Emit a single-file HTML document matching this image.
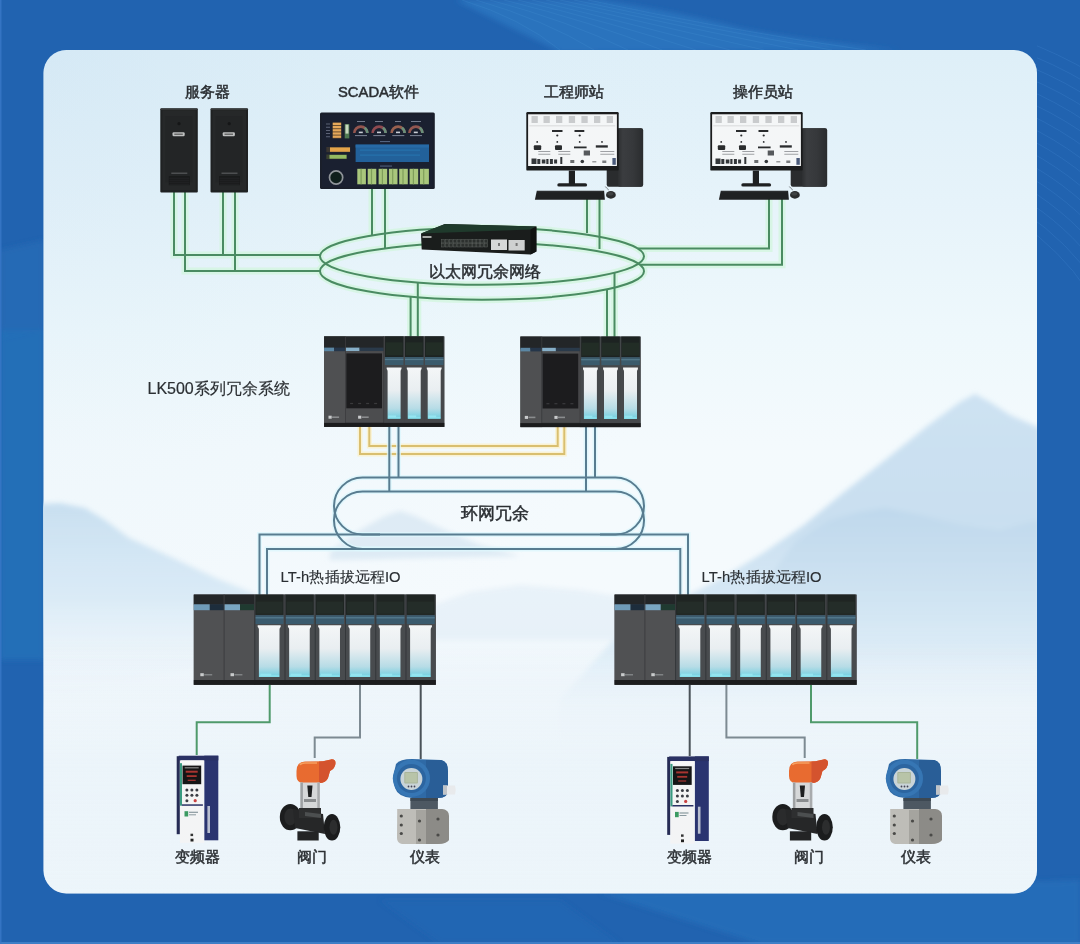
<!DOCTYPE html>
<html><head><meta charset="utf-8">
<style>
html,body{margin:0;padding:0;}
body{width:1080px;height:944px;overflow:hidden;position:relative;background:#2163b0;font-family:"Liberation Sans",sans-serif;color:#2e3236;}
svg{position:absolute;left:0;top:0;}
.t{position:absolute;white-space:nowrap;font-size:14.8px;line-height:15px;letter-spacing:0;color:#2b2f33;-webkit-text-stroke:0.5px #2b2f33;}
.b{font-size:16.5px;line-height:17px;}
</style></head><body>
<svg width="1080" height="944" viewBox="0 0 1080 944">
<defs>
 <linearGradient id="cardg" x1="0" y1="0" x2="0" y2="1">
  <stop offset="0" stop-color="#deeff8"/>
  <stop offset="0.18" stop-color="#e6f3fa"/>
  <stop offset="0.33" stop-color="#eef8fc"/>
  <stop offset="0.47" stop-color="#f4fafd"/>
  <stop offset="0.65" stop-color="#f5fafd"/>
  <stop offset="0.75" stop-color="#eef6fb"/>
  <stop offset="0.85" stop-color="#eaf4fa"/>
  <stop offset="1" stop-color="#eef6fb"/>
 </linearGradient>
 <radialGradient id="tlshade" cx="44" cy="50" r="700" gradientUnits="userSpaceOnUse">
  <stop offset="0" stop-color="#c8e0f1" stop-opacity="0.4"/>
  <stop offset="0.5" stop-color="#d3e8f4" stop-opacity="0.18"/>
  <stop offset="1" stop-color="#e0eef8" stop-opacity="0"/>
 </radialGradient>
 <linearGradient id="mtR" x1="0" y1="0" x2="0" y2="1">
  <stop offset="0" stop-color="#cde2f2"/>
  <stop offset="0.35" stop-color="#c9dff0"/>
  <stop offset="0.7" stop-color="#d8eaf6" stop-opacity="0.8"/>
  <stop offset="1" stop-color="#ecf4fa" stop-opacity="0"/>
 </linearGradient>
 <linearGradient id="mtR2" x1="0" y1="0" x2="0" y2="1">
  <stop offset="0" stop-color="#bfd8ec"/>
  <stop offset="0.5" stop-color="#d0e4f2" stop-opacity="0.7"/>
  <stop offset="1" stop-color="#ecf4fa" stop-opacity="0"/>
 </linearGradient>
 <linearGradient id="mist" x1="0" y1="0" x2="0" y2="1">
  <stop offset="0" stop-color="#f0f6fb" stop-opacity="0"/>
  <stop offset="0.3" stop-color="#f0f6fb" stop-opacity="0.5"/>
  <stop offset="1" stop-color="#eaf3f9" stop-opacity="0.3"/>
 </linearGradient>
 <filter id="blur2" x="-10%" y="-10%" width="120%" height="120%"><feGaussianBlur stdDeviation="2.5"/></filter>
 <linearGradient id="mtL" x1="0" y1="0" x2="0" y2="1">
  <stop offset="0" stop-color="#c8dff0"/>
  <stop offset="0.5" stop-color="#d5e8f5" stop-opacity="0.8"/>
  <stop offset="1" stop-color="#ecf4fa" stop-opacity="0"/>
 </linearGradient>
 <clipPath id="cardclip"><rect x="43.5" y="50" width="993.5" height="843.5" rx="23"/></clipPath>

<symbol id="server" overflow="visible">
 <rect x="0" y="0" width="37.5" height="84.3" rx="1" fill="#1f2122"/>
 <rect x="2" y="2" width="33.5" height="80" fill="#262829"/>
 <rect x="5" y="8" width="27" height="66" fill="#232526"/>
 <rect x="0.5" y="0.5" width="36.5" height="1.2" fill="#3a3c3d"/>
 <rect x="12.2" y="24" width="12.2" height="4" rx="1.2" fill="#bdbfbf"/>
 <rect x="14" y="25.4" width="8.5" height="1.2" fill="#555"/>
 <circle cx="18.7" cy="15.5" r="1.6" fill="#151617"/>
 <rect x="11" y="64.5" width="16" height="0.9" fill="#6b6d6e"/>
 <rect x="8.5" y="68" width="21" height="9" fill="#18191a"/>
 <g stroke="#2c2e2f" stroke-width="0.6"><path d="M9 70 H29 M9 72 H29 M9 74 H29 M9 76 H29"/></g>
</symbol>

<linearGradient id="towerg" x1="0" y1="0" x2="1" y2="0">
  <stop offset="0" stop-color="#2c2e30"/>
  <stop offset="0.2" stop-color="#3b3d40"/>
  <stop offset="0.6" stop-color="#36383b"/>
  <stop offset="1" stop-color="#2a2c2e"/>
</linearGradient>
<symbol id="ws" overflow="visible">
 <!-- tower -->
 <rect x="80.4" y="16.2" width="36.4" height="58.6" rx="2.2" fill="#2a2c2e"/>
 <rect x="91.5" y="16.2" width="25.3" height="58.6" rx="2.2" fill="url(#towerg)"/>
 <!-- monitor -->
 <rect x="0" y="0" width="92.4" height="58.6" rx="1.2" fill="#1b1c1d"/>
 <rect x="1.8" y="2.3" width="88.8" height="51.7" fill="#f4f6f7"/>
 <g fill="#c9cbcd">
  <rect x="5.2" y="4" width="6.3" height="7"/><rect x="17.2" y="4" width="6.3" height="7"/>
  <rect x="29.7" y="4" width="6.3" height="7"/><rect x="42.5" y="4" width="6.3" height="7"/>
  <rect x="55.1" y="4" width="6.3" height="7"/><rect x="67.7" y="4" width="6.3" height="7"/>
  <rect x="80.4" y="4" width="6.3" height="7"/>
 </g>
 <rect x="3" y="13.6" width="86" height="0.6" fill="#c5c7c9"/>
 <g fill="#2a2c2e">
  <rect x="25.7" y="18" width="10.5" height="2"/><rect x="48.2" y="18" width="9.8" height="2"/>
  <circle cx="31" cy="23.5" r="1.1"/><circle cx="53.4" cy="23.5" r="1.1"/>
  <circle cx="10.9" cy="29.9" r="0.9"/><circle cx="31" cy="29.9" r="0.9"/><circle cx="53.4" cy="29.9" r="0.9"/><circle cx="75.7" cy="29.9" r="0.9"/>
  <rect x="7.5" y="33.3" width="7.4" height="4.7" rx="1"/><rect x="28.7" y="33.3" width="7" height="4.7" rx="1"/>
  <rect x="47.7" y="34.5" width="12.6" height="1.8"/><rect x="69.5" y="33.3" width="12" height="2.3"/>
  <rect x="57.4" y="38.5" width="6.3" height="5" fill="#56595c"/>
 </g>
 <g fill="#8a8d90">
  <rect x="12" y="39" width="12" height="0.8"/><rect x="12" y="41.8" width="12" height="0.8"/>
  <rect x="32" y="39" width="12" height="0.8"/><rect x="32" y="41.8" width="12" height="0.8"/>
  <rect x="74" y="39" width="14" height="0.8"/><rect x="74" y="41.8" width="14" height="0.8"/>
 </g>
 <g fill="#34373a">
  <rect x="5.2" y="46.5" width="5" height="5.5"/><rect x="11" y="47" width="3" height="5"/>
  <rect x="15.5" y="47.5" width="3.6" height="4"/><rect x="20" y="47" width="2.2" height="5"/>
  <rect x="23.6" y="47" width="3" height="5"/><rect x="27.8" y="47.5" width="3" height="4"/>
  <rect x="34" y="45" width="2" height="7"/><rect x="44" y="48" width="4" height="3" fill="#6b6e70"/>
  <circle cx="56" cy="49.5" r="1.8"/><rect x="66" y="49" width="4" height="1.5" fill="#9a9c9e"/>
  <rect x="76" y="48.5" width="4" height="2.5" fill="#7a7d80"/>
  <rect x="86.1" y="46" width="3.4" height="6.8" fill="#4a5a7a"/>
 </g>
 <!-- stand -->
 <rect x="42.5" y="58.6" width="6.2" height="13.4" fill="#1e2021"/>
 <rect x="31" y="71.2" width="29.8" height="3.4" rx="1.7" fill="#1f2122"/>
 <!-- keyboard -->
 <path d="M10.5 78.7 L77.8 78.7 L78.6 87.8 L8.6 87.8 Z" fill="#1f2122"/>
 <rect x="11" y="79.5" width="66" height="0.6" fill="#393b3c"/>
 <!-- mouse -->
 <path d="M82.5 78 Q80 76 79 74.5" fill="none" stroke="#3a3c3d" stroke-width="0.6"/>
 <ellipse cx="84.6" cy="82.9" rx="4.9" ry="3.8" fill="#2a2c2d"/>
 <ellipse cx="84" cy="81.8" rx="3" ry="1.8" fill="#3f4243"/>
</symbol>

<symbol id="scada" overflow="visible">
 <rect x="0" y="0" width="114.8" height="76.4" rx="1.5" fill="#1a1f2b"/>
 <rect x="2" y="2" width="110.8" height="72.4" fill="#1a2030"/>
 <!-- left orange bars -->
 <rect x="12.6" y="9.8" width="8.7" height="16" fill="#6b5030"/>
 <g fill="#e6a95a"><rect x="12.8" y="10.2" width="8.3" height="2.2"/><rect x="12.8" y="13.4" width="8.3" height="2.2"/><rect x="12.8" y="16.6" width="8.3" height="2.2"/><rect x="12.8" y="19.8" width="8.3" height="2.2"/><rect x="12.8" y="23" width="8.3" height="2.2"/></g>
 <g fill="#6d7488"><rect x="6" y="11" width="4" height="0.8"/><rect x="6" y="14.2" width="4" height="0.8"/><rect x="6" y="17.4" width="4" height="0.8"/><rect x="6" y="20.6" width="4" height="0.8"/><rect x="6" y="23.8" width="4" height="0.8"/></g>
 <rect x="24.7" y="11.5" width="4.6" height="14.3" fill="#4f7a52"/>
 <rect x="25.5" y="12" width="3" height="9" fill="#c8d8c0"/>
 <!-- gauges -->
 <g fill="none" stroke-width="2.6">
  <path d="M34.3 20.5 A6.5 6.5 0 0 1 47.3 20.5" stroke="#94564f"/>
  <path d="M52.6 20.5 A6.5 6.5 0 0 1 65.6 20.5" stroke="#8e4a50"/>
  <path d="M71.6 20.5 A6.5 6.5 0 0 1 84.6 20.5" stroke="#98604f"/>
  <path d="M89.4 20.5 A6.5 6.5 0 0 1 102.4 20.5" stroke="#925650"/>
 </g>
 <g fill="none" stroke-width="2.6" stroke="#6a8f7a">
  <path d="M44.6 15.2 A6.5 6.5 0 0 1 47.3 20.5"/>
  <path d="M62.9 15.2 A6.5 6.5 0 0 1 65.6 20.5"/>
  <path d="M81.9 15.2 A6.5 6.5 0 0 1 84.6 20.5"/>
  <path d="M99.7 15.2 A6.5 6.5 0 0 1 102.4 20.5"/>
 </g>
 <g fill="#c9ccd4"><rect x="38.8" y="19" width="4" height="1.6"/><rect x="57" y="19" width="4" height="1.6"/><rect x="76" y="19" width="4" height="1.6"/><rect x="93.8" y="19" width="4" height="1.6"/></g>
 <g fill="#7d8496">
  <rect x="35" y="22.5" width="12" height="1"/><rect x="53.3" y="22.5" width="12" height="1"/><rect x="72.3" y="22.5" width="12" height="1"/><rect x="90" y="22.5" width="12" height="1"/>
  <rect x="37" y="8.5" width="8" height="0.9"/><rect x="55" y="8.5" width="8" height="0.9"/><rect x="75" y="8.5" width="6" height="0.9"/><rect x="91" y="8.5" width="10" height="0.9"/>
 </g>
 <!-- blue area -->
 <rect x="35.6" y="32" width="73.4" height="17.4" fill="#22619a"/>
 <rect x="35.6" y="32" width="73.4" height="3" fill="#276aa6"/>
 <g fill="#2a84c0" opacity="0.6"><rect x="40" y="37" width="60" height="1"/><rect x="40" y="42" width="60" height="1"/></g>
 <rect x="60" y="28.5" width="10" height="1" fill="#5a6c8a"/>
 <!-- left bars -->
 <rect x="6.3" y="34.4" width="24" height="5.2" fill="#3a3530"/>
 <rect x="10" y="34.8" width="20" height="4.4" fill="#e3a44a"/>
 <rect x="6.3" y="41.9" width="20.7" height="4.6" fill="#3a4030"/>
 <rect x="9.5" y="42.3" width="17" height="3.8" fill="#94bb62"/>
 <!-- circle -->
 <circle cx="16.1" cy="64.9" r="6.6" fill="#0f1f1c" stroke="#8f9499" stroke-width="1.7"/>
 <!-- green modules -->
 <g fill="#a9c77c">
  <rect x="37.3" y="56.2" width="8.6" height="15.5"/><rect x="47.7" y="56.2" width="8.6" height="15.5"/>
  <rect x="58.6" y="56.2" width="8.6" height="15.5"/><rect x="68.9" y="56.2" width="8.6" height="15.5"/>
  <rect x="79.2" y="56.2" width="8.6" height="15.5"/><rect x="89.6" y="56.2" width="8.6" height="15.5"/>
  <rect x="99.9" y="56.2" width="9" height="15.5"/>
 </g>
 <g fill="#7f9e5a">
  <rect x="40.5" y="56.2" width="1.2" height="15.5"/><rect x="50.9" y="56.2" width="1.2" height="15.5"/>
  <rect x="61.8" y="56.2" width="1.2" height="15.5"/><rect x="72.1" y="56.2" width="1.2" height="15.5"/>
  <rect x="82.4" y="56.2" width="1.2" height="15.5"/><rect x="92.8" y="56.2" width="1.2" height="15.5"/>
  <rect x="103.1" y="56.2" width="1.2" height="15.5"/>
 </g>
 <rect x="60" y="53" width="12" height="0.9" fill="#5a6c8a"/>
</symbol>
<symbol id="switch" overflow="visible">
 <path d="M0 9.4 L24 0 L115.4 2.6 L115.4 27.6 L109.6 30.4 L0.7 25.6 Z" fill="#1a1d1c"/>
 <path d="M0 9.4 L24 0 L115.4 2.6 L109.6 5.5 Z" fill="#1f3a2c"/>
 <path d="M109.6 5.5 L115.4 2.6 L115.4 27.6 L109.6 30.4 Z" fill="#111312"/>
 <rect x="1.5" y="12" width="9" height="2" fill="#a8aaa8"/>
 <g><rect x="20.5" y="15.6" width="3.2" height="3.3" fill="#2c302e" stroke="#5d625f" stroke-width="0.5"/><rect x="24.4" y="15.6" width="3.2" height="3.3" fill="#2c302e" stroke="#5d625f" stroke-width="0.5"/><rect x="28.3" y="15.6" width="3.2" height="3.3" fill="#2c302e" stroke="#5d625f" stroke-width="0.5"/><rect x="32.2" y="15.6" width="3.2" height="3.3" fill="#2c302e" stroke="#5d625f" stroke-width="0.5"/><rect x="36.1" y="15.6" width="3.2" height="3.3" fill="#2c302e" stroke="#5d625f" stroke-width="0.5"/><rect x="40.0" y="15.6" width="3.2" height="3.3" fill="#2c302e" stroke="#5d625f" stroke-width="0.5"/><rect x="43.9" y="15.6" width="3.2" height="3.3" fill="#2c302e" stroke="#5d625f" stroke-width="0.5"/><rect x="47.8" y="15.6" width="3.2" height="3.3" fill="#2c302e" stroke="#5d625f" stroke-width="0.5"/><rect x="51.7" y="15.6" width="3.2" height="3.3" fill="#2c302e" stroke="#5d625f" stroke-width="0.5"/><rect x="55.6" y="15.6" width="3.2" height="3.3" fill="#2c302e" stroke="#5d625f" stroke-width="0.5"/><rect x="59.5" y="15.6" width="3.2" height="3.3" fill="#2c302e" stroke="#5d625f" stroke-width="0.5"/><rect x="63.4" y="15.6" width="3.2" height="3.3" fill="#2c302e" stroke="#5d625f" stroke-width="0.5"/><rect x="20.5" y="19.7" width="3.2" height="3.3" fill="#2c302e" stroke="#5d625f" stroke-width="0.5"/><rect x="24.4" y="19.7" width="3.2" height="3.3" fill="#2c302e" stroke="#5d625f" stroke-width="0.5"/><rect x="28.3" y="19.7" width="3.2" height="3.3" fill="#2c302e" stroke="#5d625f" stroke-width="0.5"/><rect x="32.2" y="19.7" width="3.2" height="3.3" fill="#2c302e" stroke="#5d625f" stroke-width="0.5"/><rect x="36.1" y="19.7" width="3.2" height="3.3" fill="#2c302e" stroke="#5d625f" stroke-width="0.5"/><rect x="40.0" y="19.7" width="3.2" height="3.3" fill="#2c302e" stroke="#5d625f" stroke-width="0.5"/><rect x="43.9" y="19.7" width="3.2" height="3.3" fill="#2c302e" stroke="#5d625f" stroke-width="0.5"/><rect x="47.8" y="19.7" width="3.2" height="3.3" fill="#2c302e" stroke="#5d625f" stroke-width="0.5"/><rect x="51.7" y="19.7" width="3.2" height="3.3" fill="#2c302e" stroke="#5d625f" stroke-width="0.5"/><rect x="55.6" y="19.7" width="3.2" height="3.3" fill="#2c302e" stroke="#5d625f" stroke-width="0.5"/><rect x="59.5" y="19.7" width="3.2" height="3.3" fill="#2c302e" stroke="#5d625f" stroke-width="0.5"/><rect x="63.4" y="19.7" width="3.2" height="3.3" fill="#2c302e" stroke="#5d625f" stroke-width="0.5"/></g>
 <rect x="70" y="15.5" width="16" height="10.5" fill="#d6d8d8"/>
 <rect x="87.5" y="16" width="16.2" height="10.5" fill="#cfd1d1"/>
 <rect x="77" y="19" width="2" height="3" fill="#777"/><rect x="94.6" y="19" width="2" height="3" fill="#777"/>
</symbol>


<linearGradient id="win" x1="0" y1="0" x2="0" y2="1">
  <stop offset="0" stop-color="#f4f6f7"/>
  <stop offset="0.45" stop-color="#e9eef1"/>
  <stop offset="0.8" stop-color="#b7dce6"/>
  <stop offset="1" stop-color="#6fcfe0"/>
</linearGradient>
<symbol id="iomod" overflow="visible">
 <!-- width 20.1 module, local origin top-left, height 90.5 (controller) -->
 <rect x="0" y="0" width="20.1" height="90.5" fill="#45484b"/>
 <rect x="0.8" y="0" width="18.5" height="20.6" fill="#1d2322"/>
 <rect x="1.5" y="6" width="17" height="13" fill="#243028" opacity="0.8"/>
 <rect x="0.8" y="20.6" width="18.5" height="8" fill="#3b5b6c"/>
 <rect x="0.8" y="22.5" width="18.5" height="1.2" fill="#557a8c"/>
 <path d="M2.6 31 H17.4 V32.6 Q16.5 33.2 16.5 35 V82.3 H3.5 V35 Q3.5 33.2 2.6 32.6 Z" fill="url(#win)"/>
 <rect x="3.8" y="80.4" width="12.4" height="1.9" fill="#8fe6f0" opacity="0.7"/>
 <rect x="4" y="79" width="8" height="2" fill="#9ae8f2" opacity="0.8"/>
</symbol>
<symbol id="ctrl" overflow="visible">
 <rect x="0" y="0" width="120.2" height="90.5" fill="#434547"/>
 <!-- left power module -->
 <rect x="0" y="0" width="21" height="90.5" fill="#4f5052"/>
 <rect x="0" y="0" width="60" height="12.6" fill="#232628"/>
 <rect x="0" y="11.2" width="10" height="3.6" fill="#5b87a4"/>
 <rect x="10" y="11.2" width="11" height="3.6" fill="#25364a"/>
 <rect x="21.5" y="11.2" width="14" height="3.6" fill="#86afc8"/>
 <rect x="35.5" y="11.2" width="24.5" height="3.6" fill="#2a3a4a"/>
 <rect x="21" y="14.8" width="39" height="71" fill="#4c4d4f"/>
 <rect x="21" y="0" width="0.8" height="90.5" fill="#3b3c3e"/>
 <rect x="59.3" y="0" width="0.8" height="90.5" fill="#38393b"/>
 <rect x="22.2" y="17" width="35.7" height="54.9" fill="#1c1c1e"/>
 <g fill="#3a3a3c"><rect x="26" y="66.5" width="3" height="1.2"/><rect x="34" y="66.5" width="3" height="1.2"/><rect x="42" y="66.5" width="3" height="1.2"/><rect x="50" y="66.5" width="3" height="1.2"/></g>
 <g fill="#c9cbcc"><rect x="4.4" y="79.3" width="3.2" height="3" /><rect x="34" y="79.3" width="3.2" height="3"/></g>
 <g fill="#8a8c8e"><rect x="8" y="80" width="7" height="1.6"/><rect x="37.6" y="80" width="7" height="1.6"/></g>
 <use href="#iomod" x="60" y="0"/>
 <use href="#iomod" x="80.1" y="0"/>
 <use href="#iomod" x="100.1" y="0"/>
 <rect x="0" y="86.5" width="120.2" height="4" fill="#1b1c1d"/>
</symbol>


<symbol id="iomod2" overflow="visible">
 <rect x="0" y="0" width="30.24" height="90.2" fill="#484b4e"/>
 <rect x="1" y="0" width="28.2" height="20.3" fill="#1f2523"/>
 <rect x="2" y="7" width="26.2" height="12" fill="#26302a" opacity="0.8"/>
 <rect x="1" y="20.6" width="28.2" height="8.8" fill="#3a5a6d"/>
 <rect x="1" y="22.6" width="28.2" height="1.2" fill="#587e92"/>
 <path d="M3.4 30.6 H26.4 V32.4 Q25.2 33 25.2 35 V82.4 H4.6 V35 Q4.6 33 3.4 32.4 Z" fill="url(#win)"/>
 <rect x="5" y="80.5" width="19.8" height="1.9" fill="#8fe6f0" opacity="0.7"/>
 <rect x="6" y="79" width="11" height="2.2" fill="#9ae8f2" opacity="0.8"/>
 <rect x="0" y="0" width="1" height="90.2" fill="#34373a"/>
</symbol>
<symbol id="rack" overflow="visible">
 <rect x="0" y="0" width="242" height="90.2" fill="#44474a"/>
 <rect x="0" y="0" width="60.5" height="90.2" fill="#505153"/>
 <rect x="0" y="0" width="60.5" height="10" fill="#232628"/>
 <rect x="0" y="9.7" width="16" height="5.9" fill="#6f9bb8"/>
 <rect x="16" y="9.7" width="14.2" height="5.9" fill="#1d2d3c"/>
 <rect x="30.2" y="9.7" width="16" height="5.9" fill="#7aa6c2"/>
 <rect x="46.2" y="9.7" width="14.3" height="5.9" fill="#1f3a30"/>
 <rect x="29.8" y="0" width="1" height="90.2" fill="#3c3d3f"/>
 <g fill="#c9cbcc"><rect x="6.5" y="78.6" width="3.5" height="3"/><rect x="36.7" y="78.6" width="3.5" height="3"/></g>
 <g fill="#7f8284"><rect x="10.4" y="79.4" width="8" height="1.5"/><rect x="40.6" y="79.4" width="8" height="1.5"/></g>
 <use href="#iomod2" x="60.5" y="0"/><use href="#iomod2" x="90.74" y="0"/>
 <use href="#iomod2" x="120.98" y="0"/><use href="#iomod2" x="151.22" y="0"/>
 <use href="#iomod2" x="181.46" y="0"/><use href="#iomod2" x="211.7" y="0"/>
 <rect x="0" y="85.4" width="242" height="4.8" fill="#1c1d1e"/>
</symbol>


<symbol id="vfd" overflow="visible">
 <!-- origin 176.7,755.7 -->
 <rect x="27.5" y="0" width="14.1" height="84.6" fill="#2a3470"/>
 <rect x="30.7" y="50.3" width="2.6" height="27" fill="#b9bfd0"/>
 <rect x="0" y="0.5" width="3.2" height="78" fill="#262c55"/>
 <rect x="3.2" y="0" width="24.3" height="87.2" fill="#f3f4f5"/>
 <rect x="2" y="0" width="39.6" height="4.7" fill="#2a3164"/>
 <rect x="4" y="4.7" width="23" height="3.6" fill="#f8f8f8"/>
 <rect x="3.2" y="7.5" width="2.1" height="42.5" fill="#3a9a80"/>
 <rect x="5.8" y="9.9" width="18.7" height="18.6" fill="#151516"/>
 <rect x="8" y="11.5" width="14" height="1.2" fill="#888"/>
 <g fill="#a83430"><rect x="9" y="15" width="12" height="2"/><rect x="10" y="19.5" width="10" height="1.8"/><rect x="11" y="24" width="8" height="1.2"/></g>
 <rect x="5.8" y="30.1" width="18.7" height="18.2" fill="#f4f4f4"/>
 <g fill="#3a3d44">
  <circle cx="10.2" cy="34.2" r="1.5"/><circle cx="15.2" cy="34.2" r="1.5"/><circle cx="20.2" cy="34.2" r="1.5"/>
  <circle cx="10.2" cy="39.6" r="1.5"/><circle cx="15.2" cy="39.6" r="1.5"/><circle cx="20.2" cy="39.6" r="1.5"/>
  <circle cx="10.2" cy="45" r="1.5"/>
 </g>
 <circle cx="18.5" cy="45" r="1.6" fill="#c84040"/>
 <rect x="5.2" y="48.6" width="21" height="1.5" fill="#2a3164"/>
 <rect x="7.8" y="55.5" width="3.7" height="5.3" fill="#3a9a62"/>
 <g fill="#8a9aa0"><rect x="12.3" y="56" width="9" height="1.2"/><rect x="12.3" y="58.6" width="7" height="1"/></g>
 <rect x="13.8" y="78" width="2.6" height="2.4" fill="#333"/>
 <rect x="13.8" y="83" width="3" height="2.8" fill="#222"/>
</symbol>
<symbol id="valve" overflow="visible">
 <!-- origin 275,752 -->
 <path d="M21.5 19 Q21.5 10 30 9.6 L48 9.2 L56 7.4 Q60.5 7 60.5 11 Q60.5 16 55 19 L53 26 Q51 31 44 31 L28 31 Q21.5 30.5 21.5 24 Z" fill="#e86b30"/>
 <path d="M44 9.4 L48 9.2 L56 7.4 Q60.5 7 60.5 11 Q60.5 16 55 19 L53 26 Q51 31 44 31 Z" fill="#d4532e"/>
 <path d="M25 13 Q26 11 30 11 L42 11" stroke="#f5a060" stroke-width="1.4" fill="none"/>
 <rect x="25.4" y="30.5" width="19.4" height="27.5" fill="#d6d8d9"/>
 <rect x="25.4" y="30.5" width="2.5" height="27.5" fill="#9ea1a3"/>
 <rect x="42.3" y="30.5" width="2.5" height="27.5" fill="#a8abad"/>
 <path d="M32.3 33.5 L37.5 33.5 L36.5 45 L33.3 45 Z" fill="#1e1f20"/>
 <rect x="29" y="47" width="12" height="3" fill="#8a8d8f"/>
 <ellipse cx="15.3" cy="65.1" rx="10.5" ry="13.2" fill="#1c1d1e"/>
 <ellipse cx="15.3" cy="65.1" rx="6" ry="8.5" fill="#2a2b2c"/>
 <path d="M18 57 L48 62 L50 82 L20 76 Z" fill="#262728"/>
 <path d="M24 56 L46 56 L46 66 L24 66 Z" fill="#2e2f30"/>
 <rect x="22.4" y="79.3" width="21.3" height="9.2" fill="#232425"/>
 <ellipse cx="57" cy="75.3" rx="8.3" ry="13.2" fill="#1b1c1d"/>
 <ellipse cx="58.5" cy="75.3" rx="4" ry="7.5" fill="#2c2d2e"/>
 <path d="M30 60 L46 62 L46 66 L30 64 Z" fill="#5a5c5e" opacity="0.7"/>
</symbol>
<symbol id="inst" overflow="visible">
 <!-- origin 386,752 -->
 <path d="M10 12 Q14 7 26 7 L55 8 Q62 9 62 20 L62 38 Q62 46 52 46 L26 46 Q12 45 9 36 Q6 26 10 12 Z" fill="#2f6aa6"/>
 <path d="M40 8 L55 8 Q62 9 62 20 L62 38 Q62 46 52 46 L40 46 Z" fill="#295e97"/>
 <circle cx="25.4" cy="26.4" r="18.6" fill="#3676b4"/>
 <circle cx="25.4" cy="26.4" r="14.5" fill="#2c65a0"/>
 <circle cx="25.4" cy="27" r="11" fill="#c9d4d8"/>
 <rect x="18.3" y="20" width="13.6" height="11.5" rx="1" fill="#a9b59a"/>
 <rect x="19.3" y="21" width="11.6" height="9.5" fill="#b8c4a8"/>
 <g fill="#445"><circle cx="22.5" cy="34.5" r="0.9"/><circle cx="25.5" cy="34.5" r="0.9"/><circle cx="28.5" cy="34.5" r="0.9"/></g>
 <path d="M57 33.5 L69 33.5 Q70.5 38 69 42.5 L57 42.5 Z" fill="#e8eaec"/>
 <rect x="57" y="33.5" width="4" height="9" fill="#c0c4c8"/>
 <rect x="24.4" y="46" width="27.5" height="11" fill="#4d5862"/>
 <rect x="24.4" y="46" width="27.5" height="3" fill="#3d4852"/>
 <path d="M11.2 57 L56 57 Q63 58 63 64 L63 88 Q60 92 52 92 L16 92 Q11 91 11 86 Z" fill="#bebdb8"/>
 <path d="M40 57 L56 57 Q63 58 63 64 L63 88 Q60 92 52 92 L40 92 Z" fill="#8c8b87"/>
 <rect x="30" y="58" width="10" height="34" fill="#a5a49f"/>
 <g fill="#4a4a48">
  <circle cx="15.3" cy="64" r="1.6"/><circle cx="15.3" cy="73" r="1.6"/><circle cx="15.3" cy="81.5" r="1.6"/>
  <circle cx="33.5" cy="69" r="1.6"/><circle cx="33.5" cy="88" r="1.6"/><circle cx="52" cy="67" r="1.6"/><circle cx="52" cy="83" r="1.6"/>
 </g>
</symbol>

<g id="gl" fill="none">
 <ellipse cx="482" cy="256.3" rx="162" ry="28.5"/>
 <ellipse cx="482" cy="271.2" rx="162" ry="28.5"/>
 <path d="M174 192 V255 H320 M223 192 V255"/>
 <path d="M185 192 V271 H320 M235 192 V271"/>
 <path d="M372 189 V235 M385 189 V249"/>
 <path d="M587 199 V233 M599.5 199 V249"/>
 <path d="M769 199 V248.5 H638 M782 199 V264.8 H640"/>
 <path d="M410.6 296 V337 M417.8 282 V337"/>
 <path d="M607 289 V337 M614.5 272.5 V337"/>
</g>
<g id="bl" fill="none">
 <rect x="334" y="477.5" width="310" height="57" rx="28.5"/>
 <rect x="334" y="491.5" width="310" height="57.5" rx="28.5"/>
 <path d="M389.3 426 V491.5 M398.5 426 V477.5 M586 426 V491.5 M595 426 V477.5"/>
 <path d="M380 534.5 H259.5 V595 M380 549 H267 V595"/>
 <path d="M600 534.5 H688 V595 M600 549 H680.3 V595"/>
</g>
</defs>
<!-- background waves -->
<g filter="url(#blur2)">
 <path d="M455 0 L600 0 Q680 12 740 28 Q800 40 900 50 L560 52 Z" fill="#2b78c2" opacity="0.75"/>
 </g>
<g filter="url(#blur2)">
 <path d="M600 893 L1080 880 L1080 944 L760 944 Z" fill="#2b74c0" opacity="0.55"/>
 <path d="M380 900 L560 900 L620 944 L440 944 Z" fill="#2668b6" opacity="0.5"/>
 <path d="M0 250 L44 240 L44 330 L0 340 Z" fill="#2a6fba" opacity="0.5"/>
 <rect x="0" y="330" width="44" height="330" fill="#2270b8" opacity="0.9"/>
</g>
<g fill="none" stroke="#4b94d8" stroke-width="0.8" stroke-opacity="0.28"><path d="M462 0 Q521 18 560 50" /><path d="M476 0 Q545 20 594 50" /><path d="M490 0 Q569 21 628 50" /><path d="M504 0 Q593 22 662 50" /><path d="M518 0 Q617 24 696 50" /><path d="M532 0 Q641 26 730 50" /><path d="M546 0 Q665 27 764 50" /><path d="M560 0 Q689 28 798 50" /><path d="M574 0 Q713 30 832 50" /><path d="M588 0 Q737 32 866 50" /></g>
<clipPath id="rclip"><rect x="1037" y="40" width="43" height="360"/></clipPath>
<g clip-path="url(#rclip)" fill="none" stroke="#5097dc" stroke-width="0.7" stroke-opacity="0.3"><circle cx="880" cy="430" r="250"/><circle cx="880" cy="430" r="261"/><circle cx="880" cy="430" r="272"/><circle cx="880" cy="430" r="283"/><circle cx="880" cy="430" r="294"/><circle cx="880" cy="430" r="305"/><circle cx="880" cy="430" r="316"/><circle cx="880" cy="430" r="327"/><circle cx="880" cy="430" r="338"/><circle cx="880" cy="430" r="349"/><circle cx="880" cy="430" r="360"/><circle cx="880" cy="430" r="371"/><circle cx="880" cy="430" r="382"/><circle cx="880" cy="430" r="393"/><circle cx="880" cy="430" r="404"/><circle cx="880" cy="430" r="415"/></g>
<rect x="0" y="942" width="1080" height="2" fill="#4585cc" opacity="0.8"/>
<rect x="0" y="0" width="1.5" height="944" fill="#3a78c8" opacity="0.8"/>
<!-- card -->
<rect x="43.5" y="50" width="993.5" height="843.5" rx="23" fill="url(#cardg)"/>
<rect x="43.5" y="50" width="993.5" height="843.5" rx="23" fill="url(#tlshade)"/>
<g clip-path="url(#cardclip)">
 <g filter="url(#blur2)">
 <path d="M560 700 L640 610 L682 598 L722 578 L763 553 L804 525 L844 492 L885 460 L926 427 L960 402 L975 394 L990 402 L1010 415 L1040 428 L1040 760 L560 760 Z" fill="url(#mtR)"/>
 <path d="M700 640 L760 590 L796 541 L830 520 L860 512 L885 508 L920 515 L960 525 L1000 530 L1040 520 L1040 720 L700 720 Z" fill="url(#mtR2)"/>
 <path d="M330 552 L360 530 L385 516 L400 511 L415 516 L445 530 L480 545 L520 556 L330 560 Z" fill="#d8e7f2" opacity="0.8"/>
 <path d="M420 610 L470 592 L520 585 L580 590 L640 600 L640 640 L420 640 Z" fill="#e3eef6" opacity="0.7"/>
 <path d="M40 504 L60 503 L85 508 L105 520 L129 538 L173 558 L218 579 L248 591 L300 615 L330 640 L40 700 Z" fill="url(#mtL)"/>
 </g>
 <rect x="40" y="640" width="1000" height="260" fill="url(#mist)"/>
</g>
<!-- green ethernet lines -->
<use href="#gl" stroke="#d2f5de" stroke-width="7" stroke-opacity="0.75"/>
<use href="#gl" stroke="#4a8b62" stroke-width="2"/>
<!-- yellow -->
<g fill="none" stroke="#fcf1c8" stroke-width="5" opacity="0.8">
 <path d="M360 426 V454 H564.3 V426"/>
 <path d="M369.3 426 V446 H557.7 V426"/>
</g>
<g fill="none" stroke="#d9bf70" stroke-width="2">
 <path d="M360 426 V454 H564.3 V426"/>
 <path d="M369.3 426 V446 H557.7 V426"/>
</g>
<!-- blue ring -->
<use href="#bl" stroke="#dcf6fc" stroke-width="5" stroke-opacity="0.8"/>
<use href="#bl" stroke="#587c90" stroke-width="2"/>
<!-- device lines -->
<g fill="none" stroke-width="2">
 <path d="M269.7 685 V722.2 H196.7 V755" stroke="#4f9a6b"/>
 <path d="M360 685 V737.5 H314.7 V758" stroke="#7d8a92"/>
 <path d="M420.7 685 V759" stroke="#4a5258"/>
 <path d="M689.7 685 V756" stroke="#4a5258"/>
 <path d="M726.4 685 V737.5 H804.7 V758" stroke="#7d8a92"/>
 <path d="M811 685 V722.2 H917.2 V759" stroke="#4f9a6b"/>
</g>

<!-- devices top -->
<use href="#server" x="160.3" y="108.2"/>
<use href="#server" x="210.5" y="108.2"/>
<use href="#ws" x="526.3" y="112"/>
<use href="#ws" x="710.3" y="112"/>
<use href="#scada" x="320" y="112.6"/>
<use href="#switch" x="421" y="224"/>
<use href="#ctrl" x="324.1" y="336.4"/>
<use href="#ctrl" x="520.4" y="336.6"/>
<use href="#rack" x="193.8" y="594.6"/>
<use href="#rack" x="614.6" y="594.6"/>
<use href="#vfd" x="176.7" y="755.7"/>
<use href="#vfd" x="667.2" y="756.4"/>
<use href="#valve" x="275" y="752"/>
<use href="#valve" x="767.5" y="752"/>
<use href="#inst" x="386" y="752"/>
<use href="#inst" x="879" y="752"/>
</svg>
<div class="t" style="left:184.5px;top:84.5px;">服务器</div>
<div class="t" style="left:338px;top:84.5px;">SCADA软件</div>
<div class="t" style="left:544px;top:84.5px;">工程师站</div>
<div class="t" style="left:732.5px;top:84.5px;">操作员站</div>
<div class="t b" style="left:429px;top:262.5px;font-size:15.8px;">以太网冗余网络</div>
<div class="t b" style="left:147.5px;top:379.5px;font-size:16px;-webkit-text-stroke:0.2px #2b2f33;">LK500系列冗余系统</div>
<div class="t b" style="left:461px;top:504.5px;">环网冗余</div>
<div class="t" style="left:280.5px;top:570px;letter-spacing:0.1px;-webkit-text-stroke:0.15px #2b2f33;">LT-h热插拔远程IO</div>
<div class="t" style="left:701.5px;top:570px;letter-spacing:0.1px;-webkit-text-stroke:0.15px #2b2f33;">LT-h热插拔远程IO</div>
<div class="t" style="left:174.5px;top:850px;font-size:14.6px;">变频器</div>
<div class="t" style="left:296.5px;top:850px;font-size:14.6px;">阀门</div>
<div class="t" style="left:409.5px;top:850px;font-size:14.6px;">仪表</div>
<div class="t" style="left:666.5px;top:850px;font-size:14.6px;">变频器</div>
<div class="t" style="left:794px;top:850px;font-size:14.6px;">阀门</div>
<div class="t" style="left:901px;top:850px;font-size:14.6px;">仪表</div>
</body></html>
